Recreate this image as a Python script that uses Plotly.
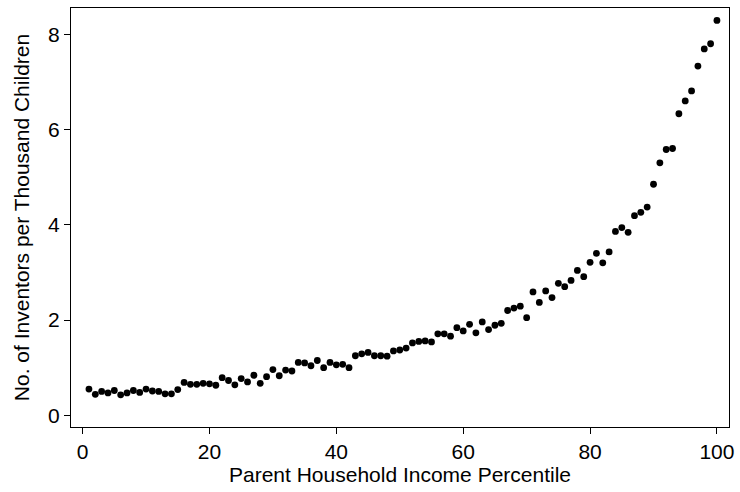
import plotly.graph_objects as go

percentile = list(range(1, 101))
inventors = [
    0.55, 0.44, 0.50, 0.47, 0.52, 0.43, 0.47, 0.52, 0.48, 0.55,
    0.51, 0.50, 0.45, 0.45, 0.54, 0.69, 0.65, 0.65, 0.67, 0.66,
    0.63, 0.79, 0.73, 0.64, 0.77, 0.70, 0.84, 0.67, 0.81, 0.96,
    0.83, 0.95, 0.93, 1.11, 1.10, 1.04, 1.15, 1.00, 1.11, 1.06,
    1.07, 1.00, 1.25, 1.29, 1.32, 1.25, 1.25, 1.24, 1.35, 1.37,
    1.41, 1.52, 1.55, 1.56, 1.54, 1.71, 1.71, 1.66, 1.84, 1.77,
    1.91, 1.73, 1.96, 1.80, 1.89, 1.93, 2.20, 2.25, 2.29, 2.05,
    2.59, 2.37, 2.61, 2.47, 2.77, 2.70, 2.83, 3.04, 2.91, 3.21,
    3.40, 3.20, 3.43, 3.86, 3.94, 3.84, 4.19, 4.26, 4.37, 4.85,
    5.30, 5.58, 5.60, 6.33, 6.60, 6.81, 7.33, 7.69, 7.80, 8.29,
]

x_ticks = [0, 20, 40, 60, 80, 100]
y_ticks = [0, 2, 4, 6, 8]

font_family = "Liberation Sans, Arial, sans-serif"

fig = go.Figure(
    go.Scatter(
        x=percentile,
        y=inventors,
        mode="markers",
        marker=dict(color="black", size=6.8, line=dict(width=0)),
        hoverinfo="x+y",
    )
)

axis_common = dict(
    showline=True,
    linecolor="black",
    linewidth=1.3,
    mirror=True,
    showgrid=False,
    zeroline=False,
    ticks="outside",
    ticklen=6,
    tickwidth=1.2,
    tickcolor="black",
    tickfont=dict(family=font_family, size=21, color="black"),
)

fig.update_layout(
    width=740,
    height=492,
    margin=dict(l=71, r=6, t=8, b=65),
    paper_bgcolor="white",
    plot_bgcolor="white",
    showlegend=False,
    font=dict(family=font_family, color="black"),
    xaxis=dict(
        range=[-1.83, 101.9],
        tickvals=x_ticks,
        ticktext=[str(v) for v in x_ticks],
        title=dict(text="Parent Household Income Percentile",
                   font=dict(family=font_family, size=21, color="black"),
                   standoff=4),
        **axis_common,
    ),
    yaxis=dict(
        range=[-0.246, 8.55],
        tickvals=y_ticks,
        ticktext=[str(v) for v in y_ticks],
        title=dict(text="No. of Inventors per Thousand Children",
                   font=dict(family=font_family, size=21, color="black"),
                   standoff=12),
        **axis_common,
    ),
)

fig.write_html(
    "out.html",
    config={"displayModeBar": False},
    post_script="document.body.style.margin='0px';",
)
